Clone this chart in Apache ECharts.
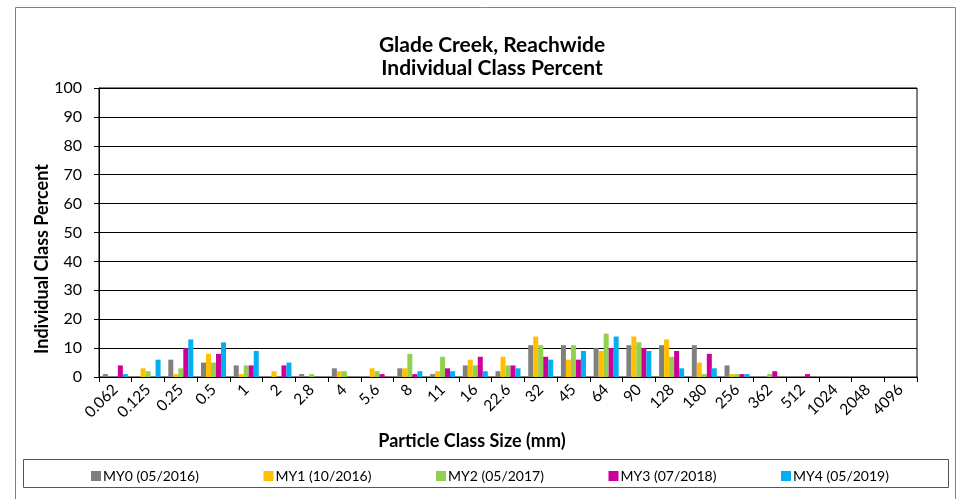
<!DOCTYPE html>
<html>
<head>
<meta charset="utf-8">
<script src="https://cdn.jsdelivr.net/npm/echarts@6/dist/echarts.min.js"></script>
<style>
  html, body { margin: 0; padding: 0; background: #fff; }
  #chart { width: 962px; height: 499px; }
</style>
</head>
<body>
<div id="chart"></div>
<script>
// Particle class sizes (mm)
const sizeClasses = ['0.062', '0.125', '0.25', '0.5', '1', '2', '2.8', '4', '5.6', '8', '11', '16', '22.6',
    '32', '45', '64', '90', '128', '180', '256', '362', '512', '1024', '2048', '4096'];

// Individual class percent per monitoring year
const my0 = [1, 0, 6, 5, 4, 0, 1, 3, 0, 3, 1, 4, 2, 11, 11, 10, 11, 11, 11, 4, 0, 0, 0, 0, 0];
const my1 = [0, 3, 1, 8, 1, 2, 0, 2, 3, 3, 2, 6, 7, 14, 6, 9, 14, 13, 5, 1, 0, 0, 0, 0, 0];
const my2 = [0, 2, 3, 5, 4, 0, 1, 2, 2, 8, 7, 4, 4, 11, 11, 15, 12, 7, 1, 1, 1, 0, 0, 0, 0];
const my3 = [4, 0, 10, 8, 4, 4, 0, 0, 1, 1, 3, 7, 4, 7, 6, 10, 10, 9, 8, 1, 2, 1, 0, 0, 0];
const my4 = [1, 6, 13, 12, 9, 5, 0, 0, 0, 2, 2, 2, 3, 6, 9, 14, 9, 3, 3, 1, 0, 0, 0, 0, 0];

const seriesNames = ['MY0 (05/2016)', 'MY1 (10/2016)', 'MY2 (05/2017)', 'MY3 (07/2018)', 'MY4 (05/2019)'];
const seriesColors = ['#808080', '#FFC000', '#92D050', '#CC0099', '#00B0F0'];
const seriesData = [my0, my1, my2, my3, my4];

const font = 'Lato, "Open Sans", sans-serif';

const chartDom = document.getElementById('chart');
const myChart = echarts.init(chartDom);

// one legend per entry so the items sit at Excel's even spacing
const legends = seriesNames.map((name, i) => ({
    left: 91 + i * 172.5,
    top: 469,
    padding: 0,
    itemWidth: 10,
    itemHeight: 10,
    itemGap: 0,
    icon: 'rect',
    textStyle: { fontFamily: font, fontSize: 14, color: '#000', padding: [0, 0, 0, -3] },
    data: [name]
}));

const option = {
    animation: false,
    textStyle: { fontFamily: font, color: '#000' },
    title: {
        text: 'Glade Creek, Reachwide\nIndividual Class Percent',
        left: 487,
        textAlign: 'center',
        top: 29,
        textStyle: {
            fontFamily: font,
            fontSize: 21,
            fontWeight: 'bold',
            color: '#000',
            lineHeight: 23
        }
    },
    legend: legends,
    grid: {
        left: 99,
        right: 45,
        top: 88,
        bottom: 122,
        show: true,
        borderColor: '#000',
        borderWidth: 1
    },
    xAxis: {
        type: 'category',
        data: sizeClasses,
        axisLine: { lineStyle: { color: '#000' } },
        axisTick: { show: true, length: 5, lineStyle: { color: '#000' } },
        axisLabel: { rotate: 45, fontSize: 15.5, color: '#000', margin: 10, interval: 0 }
    },
    yAxis: {
        type: 'value',
        min: 0,
        max: 100,
        interval: 10,
        axisLine: { show: true, lineStyle: { color: '#000' } },
        axisTick: { show: true, length: 5, lineStyle: { color: '#000' } },
        axisLabel: { fontSize: 16, color: '#000', margin: 17 },
        splitLine: { lineStyle: { color: '#000', width: 1 } }
    },
    graphic: [
        {
            type: 'rect',
            shape: { x: 15.5, y: 7.5, width: 940, height: 500 },
            style: { fill: 'none', stroke: '#808080', lineWidth: 1 },
            silent: true
        },
        {
            type: 'rect',
            shape: { x: 23.5, y: 459.5, width: 925, height: 28 },
            style: { fill: 'none', stroke: '#555', lineWidth: 1 },
            silent: true
        },
        {
            type: 'text',
            x: 472,
            y: 441,
            style: {
                text: 'Particle Class Size (mm)',
                font: 'bold 18px ' + font,
                fill: '#000',
                align: 'center',
                verticalAlign: 'middle'
            }
        },
        {
            type: 'text',
            x: 42,
            y: 259,
            rotation: Math.PI / 2,
            style: {
                text: 'Individual Class Percent',
                font: 'bold 18px ' + font,
                fill: '#000',
                align: 'center',
                verticalAlign: 'middle'
            }
        }
    ],
    series: seriesNames.map((name, i) => ({
        name: name,
        type: 'bar',
        data: seriesData[i],
        barWidth: 5,
        barGap: '0%',
        itemStyle: { color: seriesColors[i] }
    }))
};

myChart.setOption(option);

window.addEventListener('resize', function () {
    myChart.resize();
});
</script>
</body>
</html>
